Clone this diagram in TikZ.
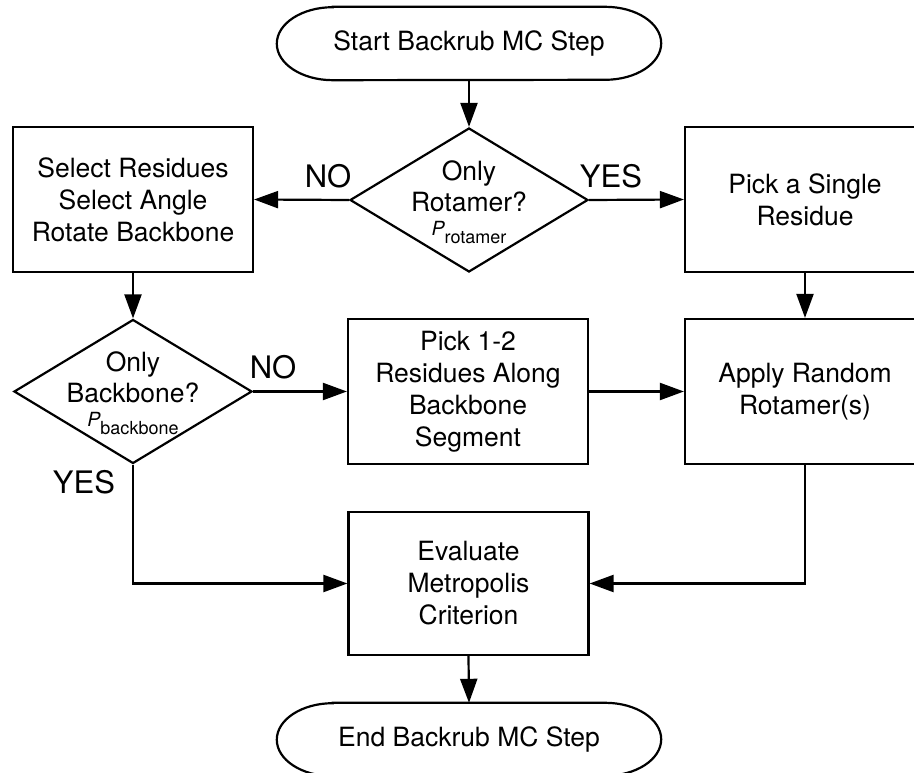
\documentclass[tikz,border=0pt]{standalone}
\usepackage{fontspec}
\setmainfont{TeX Gyre Heros}
\usetikzlibrary{shapes.geometric,arrows.meta}
\tikzset{
  ln/.style={line width=2.2pt},
  box/.style={ln, draw, rectangle, minimum width=240pt, minimum height=145pt, inner sep=0pt, align=center, font=\fontsize{26.5}{32}\selectfont},
  dia/.style={ln, draw, diamond, minimum width=238pt, minimum height=144pt, inner sep=0pt},
  diatext/.style={align=center, inner sep=0pt, font=\fontsize{26.5}{31}\selectfont},
  term/.style={rectangle, minimum width=384pt, minimum height=73pt, inner sep=0pt, font=\fontsize{26.5}{32}\selectfont},
  arr/.style={ln, -{Triangle[length=24pt,width=17pt]}},
  lab/.style={inner sep=0pt, font=\fontsize{31}{36}\selectfont}
}
\newcommand{\termoutline}[1]{%
  \draw[ln] ([xshift=56pt]#1.north west) -- ([xshift=-56pt]#1.north east)
    arc[start angle=90, end angle=-90, x radius=56pt, y radius=36.5pt]
    -- ([xshift=56pt]#1.south west)
    arc[start angle=270, end angle=90, x radius=56pt, y radius=36.5pt] -- cycle;}
\begin{document}
\begin{tikzpicture}[x=1pt,y=1pt]
\useasboundingbox (0,0) rectangle (914,772);
\clip (0,0) rectangle (914,772);
% terminals
\node[term] (start) at (469,728.5) {Start Backrub MC Step};
\termoutline{start}
\node[term] (end) at (469,32.5) {End Backrub MC Step};
\termoutline{end}
% decision 1
\node[dia] (d1) at (469,572) {};
\node[diatext] (d1t) at ([yshift=-2pt]d1.center) {Only\\Rotamer?\\[-7pt]{\fontsize{19.5}{22}\selectfont\itshape P}{\fontsize{18}{20}\selectfont\raisebox{-8pt}{rotamer}}};
% boxes row 1
\node[box] (bl) at (133,572.5) {Select Residues\\Select Angle\\Rotate Backbone};
\node[box] (br) at (805,572.5) {Pick a Single\\Residue};
% decision 2
\node[dia] (d2) at (133,380.5) {};
\node[diatext] (d2t) at ([yshift=-2pt]d2.center) {Only\\Backbone?\\[-7pt]{\fontsize{19.5}{22}\selectfont\itshape P}{\fontsize{18}{20}\selectfont\raisebox{-8pt}{backbone}}};
% boxes row 2
\node[box] (bm) at (468,380.5) {Pick 1-2\\Residues Along\\Backbone\\Segment};
\node[box] (bra) at (805,380.5) {Apply Random\\Rotamer(s)};
% evaluate
\node[box, minimum height=143pt] (ev) at (468.5,188.5) {Evaluate\\Metropolis\\Criterion};
% connectors
\draw[arr] (start.south) -- (d1.north);
\draw[arr] (d1.west) -- (bl.east);
\draw[arr] (d1.east) -- (br.west);
\draw[arr] (bl.south) -- (d2.north);
\draw[arr] (d2.east) -- (bm.west);
\draw[arr] (br.south) -- (bra.north);
\draw[arr] (bm.east) -- (bra.west);
\draw[arr] (d2.south) |- (ev.west);
\draw[arr] (bra.south) |- (ev.east);
\draw[arr] (ev.south) -- (end.north);
% labels
\node[lab] (no1) at (328,596) {NO};
\node[lab] (yes1) at (611,596) {YES};
\node[lab] (no2) at (273,405) {NO};
\node[lab] (yes2) at (84,289.5) {YES};
\end{tikzpicture}
\end{document}
